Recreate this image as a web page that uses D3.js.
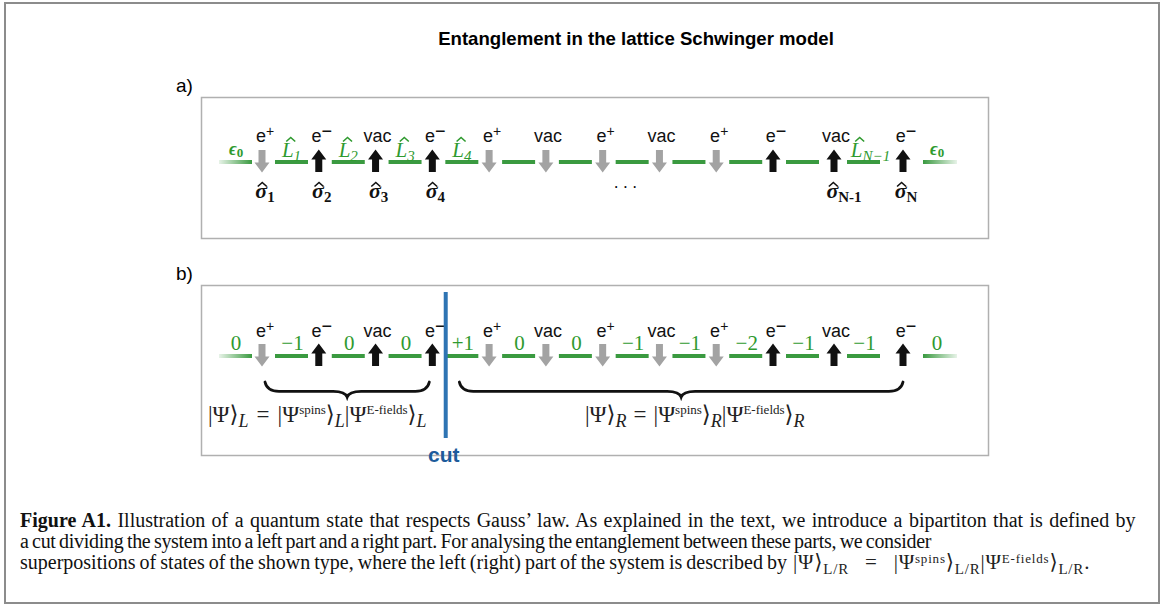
<!DOCTYPE html>
<html lang="en">
<head>
  <meta charset="UTF-8">
  <script src="https://cdn.jsdelivr.net/npm/d3@7"></script>
  <title>Entanglement in the lattice Schwinger model</title>
  <style>
    body { margin: 0; background: #fff; }
  </style>
</head>
<body>
  <svg width="1165" height="606"></svg>
<script>
  // --- data ---
  const siteLabels = ["e+", "e−", "vac", "e−", "e+", "vac", "e+", "vac", "e+", "e−", "vac", "e−"];
  const siteSpins = ["down", "up", "up", "up", "down", "down", "down", "down", "down", "up", "up", "up"];
  const bondSubsA = ["1", "2", "3", "4", null, null, null, null, null, null, "N−1"];
  const sigmaSubs = ["1", "2", "3", "4", null, null, null, null, null, null, "N-1", "N"];
  const bondValuesB = ["−1", "0", "0", "+1", "0", "0", "−1", "−1", "−2", "−1", "−1"];
  const edgeValuesB = ["0", "0"];
  const cutAfterSite = 3;
  const braces = [
    { from: 0, to: 3, side: "L" },
    { from: 3.5, to: 11, side: "R" }
  ];
  const captionLines = [
    ["Figure A1.", " Illustration of a quantum state that respects Gauss’ law. As explained in the text, we introduce a bipartiton that is defined by"],
    [null, "a cut dividing the system into a left part and a right part. For analysing the entanglement between these parts, we consider"],
    [null, "superpositions of states of the shown type, where the left (right) part of the system is described by"]
  ];
  const captionEnds = [1137, 930, 786];
  const captionTrack = [0, -0.3, 0];

  const svg = d3.select("svg");
  const width = +svg.attr("width");
  const height = +svg.attr("height");

  const green = "#3a9a40";
  const greenText = "#2f9a2f";
  const serif = "'Liberation Serif', 'DejaVu Serif', serif";
  const sans = "'Liberation Sans', Arial, sans-serif";

  // site index -> x (the lattice is drawn a bit wider at the right end)
  const xSite = d3.scaleLinear()
    .domain([0, 9, 10, 11])
    .range([262, 773, 834, 903]);

  const bondX0 = i => xSite(i) + 13;
  const bondX1 = i => xSite(i) + 46;
  const bondMid = i => (bondX0(i) + bondX1(i)) / 2;

  // outer frame
  svg.append("rect")
    .attr("x", 5).attr("y", 3)
    .attr("width", width - 11).attr("height", height - 6)
    .attr("fill", "#fff")
    .attr("stroke", "#8c8c8c")
    .attr("stroke-width", 2);

  // title
  svg.append("text")
    .attr("x", 636).attr("y", 45)
    .attr("text-anchor", "middle")
    .style("font-family", sans)
    .style("font-size", "18.6px")
    .style("font-weight", "bold")
    .text("Entanglement in the lattice Schwinger model");

  // gradients for the open ends of the chain
  const defs = svg.append("defs");
  const gl = defs.append("linearGradient").attr("id", "fadeL");
  gl.append("stop").attr("offset", "0%").attr("stop-color", green).attr("stop-opacity", 0.12);
  gl.append("stop").attr("offset", "100%").attr("stop-color", green).attr("stop-opacity", 1);
  const gr = defs.append("linearGradient").attr("id", "fadeR");
  gr.append("stop").attr("offset", "0%").attr("stop-color", green).attr("stop-opacity", 1);
  gr.append("stop").attr("offset", "100%").attr("stop-color", green).attr("stop-opacity", 0.12);

  function arrowPath(dir) {
    // block arrow, centred on 0,0
    const p = [[0, -11.5], [7.5, -1.5], [3.5, -1.5], [3.5, 11], [-3.5, 11], [-3.5, -1.5], [-7.5, -1.5]];
    const s = dir === "up" ? 1 : -1;
    return d3.line()(p.map(([x, y]) => [x, y * s])) + "Z";
  }

  // hat over the first glyph of a text element
  function addHat(g, textSel, capH, shift, color) {
    textSel.each(function () {
      const ex = this.getExtentOfChar(0);
      const yb = +d3.select(this).attr("y");
      const cx = ex.x + ex.width / 2 + shift;
      const top = yb - capH;
      g.append("path")
        .attr("d", `M${cx - 4.5},${top - 1.5} L${cx},${top - 5.5} L${cx + 4.5},${top - 1.5}`)
        .attr("fill", "none")
        .attr("stroke", color)
        .attr("stroke-width", 1.6);
    });
  }

  function drawChain(g, lineY, labelY) {
    const idx = d3.range(siteLabels.length);
    const bonds = d3.range(siteLabels.length - 1);

    g.selectAll(".bond").data(bonds).join("line")
      .attr("x1", d => bondX0(d)).attr("x2", d => bondX1(d))
      .attr("y1", lineY).attr("y2", lineY)
      .attr("stroke", green).attr("stroke-width", 4);

    // open ends
    g.append("rect")
      .attr("x", xSite(0) - 43).attr("y", lineY - 2)
      .attr("width", 33).attr("height", 4)
      .attr("fill", "url(#fadeL)");
    g.append("rect")
      .attr("x", xSite(11) + 20).attr("y", lineY - 2)
      .attr("width", 34).attr("height", 4)
      .attr("fill", "url(#fadeR)");

    // spins
    g.selectAll(".spin").data(idx).join("path")
      .attr("transform", d => `translate(${xSite(d)},${lineY - 1})`)
      .attr("d", d => arrowPath(siteSpins[d]))
      .attr("fill", d => siteSpins[d] === "up" ? "#111" : "#a3a3a3");

    // site labels
    const t = g.selectAll(".site").data(idx).join("text")
      .attr("x", d => xSite(d) + (siteLabels[d] === "vac" ? 2 : 3))
      .attr("y", labelY)
      .attr("text-anchor", "middle")
      .style("font-family", sans)
      .style("font-size", "18px")
      .attr("fill", "#111");
    t.each(function (d) {
      const lab = siteLabels[d];
      const el = d3.select(this);
      if (lab === "vac") {
        el.text("vac");
      } else {
        el.append("tspan").text("e");
        el.append("tspan")
          .attr("dy", lab === "e+" ? -6 : -5)
          .style("font-size", lab === "e+" ? "14px" : "18px")
          .text(lab === "e+" ? "+" : "−");
      }
    });
  }

  // ---------------- panel a ----------------
  svg.append("text")
    .attr("x", 176).attr("y", 92)
    .style("font-family", sans).style("font-size", "19px")
    .text("a)");
  svg.append("rect")
    .attr("x", 201.5).attr("y", 97.5).attr("width", 787).attr("height", 141)
    .attr("fill", "none").attr("stroke", "#b0b0b0").attr("stroke-width", 1.5);

  const ga = svg.append("g");
  drawChain(ga, 162, 142);

  // L operators
  const lOps = ga.selectAll(".lop")
    .data(d3.range(bondSubsA.length).filter(i => bondSubsA[i] !== null))
    .join("text")
    .attr("x", d => bondMid(d) + (bondSubsA[d].length > 1 ? 7 : 0))
    .attr("y", 157)
    .attr("text-anchor", "middle")
    .attr("fill", greenText)
    .style("font-family", serif)
    .style("font-style", "italic")
    .style("font-size", "21px");
  lOps.append("tspan").text("L");
  lOps.append("tspan")
    .attr("dy", 4)
    .style("font-size", "15px")
    .text(d => bondSubsA[d]);
  addHat(ga, lOps, 14, 3, greenText);

  // epsilon_0 at both open ends
  const epsX = [xSite(0) - 26, xSite(11) + 34];
  const eps = ga.selectAll(".eps").data(epsX).join("text")
    .attr("x", d => d).attr("y", 155)
    .attr("text-anchor", "middle")
    .attr("fill", greenText)
    .style("font-family", serif)
    .style("font-style", "italic")
    .style("font-weight", "bold")
    .style("font-size", "18px");
  eps.append("tspan").text("ϵ");
  eps.append("tspan").attr("dy", 2).style("font-size", "13px").style("font-style", "normal").text("0");

  // sigma operators
  const sig = ga.selectAll(".sig")
    .data(d3.range(sigmaSubs.length).filter(i => sigmaSubs[i] !== null))
    .join("text")
    .attr("x", d => xSite(d) + (sigmaSubs[d].length > 1 ? (sigmaSubs[d].length > 2 ? 10 : 4) : 3))
    .attr("y", 198)
    .attr("text-anchor", "middle")
    .attr("fill", "#111")
    .style("font-family", serif)
    .style("font-weight", "bold")
    .style("font-size", "22px");
  sig.append("tspan").style("font-style", "italic").text("σ");
  sig.append("tspan").attr("dy", 4).style("font-size", "15px").text(d => sigmaSubs[d]);
  addHat(ga, sig, 10, 1, "#111");

  ga.append("text")
    .attr("x", xSite(6.4)).attr("y", 193)
    .attr("text-anchor", "middle")
    .style("font-family", serif).style("font-size", "16px")
    .text("· · ·");

  // ---------------- panel b ----------------
  svg.append("text")
    .attr("x", 176).attr("y", 280)
    .style("font-family", sans).style("font-size", "19px")
    .text("b)");
  svg.append("rect")
    .attr("x", 201.5).attr("y", 285.5).attr("width", 787).attr("height", 170)
    .attr("fill", "none").attr("stroke", "#b0b0b0").attr("stroke-width", 1.5);

  const gb = svg.append("g");
  drawChain(gb, 356, 337);

  gb.selectAll(".val").data(bondValuesB).join("text")
    .attr("x", (d, i) => bondMid(i) + 1)
    .attr("y", 350)
    .attr("text-anchor", "middle")
    .attr("fill", greenText)
    .style("font-family", serif)
    .style("font-size", "21px")
    .text(d => d);

  gb.selectAll(".edgeval").data(edgeValuesB).join("text")
    .attr("x", (d, i) => i === 0 ? xSite(0) - 26 : xSite(11) + 34)
    .attr("y", 350)
    .attr("text-anchor", "middle")
    .attr("fill", greenText)
    .style("font-family", serif)
    .style("font-size", "21px")
    .text(d => d);

  // braces
  function bracePath(x1, x2, y, d) {
    const m = (x1 + x2) / 2, q = 14, h = y + d * 0.62;
    return `M${x1},${y} Q${x1 + 2},${h} ${x1 + q},${h} L${m - q},${h} Q${m - 2},${h} ${m},${y + d}` +
      ` Q${m + 2},${h} ${m + q},${h} L${x2 - q},${h} Q${x2 - 2},${h} ${x2},${y}`;
  }
  gb.selectAll(".brace").data(braces).join("path")
    .attr("d", d => {
      const x1 = d.side === "L" ? xSite(d.from) + 3 : xSite(cutAfterSite) + 27;
      const x2 = d.side === "L" ? xSite(d.to) - 3 : xSite(d.to);
      return bracePath(x1, x2, 382, 15);
    })
    .attr("fill", "none")
    .attr("stroke", "#111")
    .attr("stroke-width", 2.8)
    .attr("stroke-linecap", "round");

  // state formulas
  function stateFormula(sel, side, big, sub, sup, gap, raise) {
    const st = side.length > 1 ? "normal" : "italic";
    const r = raise || 8;
    const t = sel.append("text")
      .style("font-family", serif)
      .style("font-size", big + "px")
      .attr("fill", "#222");
    t.append("tspan").text("|Ψ⟩");
    t.append("tspan").attr("dy", 5).style("font-style", st).style("font-size", sub + "px").text(side);
    t.append("tspan").attr("dy", -5).attr("dx", gap).text("=");
    t.append("tspan").attr("dx", gap).text("|Ψ");
    t.append("tspan").attr("dy", -r).style("font-size", sup + "px").text("spins");
    t.append("tspan").attr("dy", r).text("⟩");
    t.append("tspan").attr("dy", 5).style("font-style", st).style("font-size", sub + "px").text(side);
    t.append("tspan").attr("dy", -5).text("|Ψ");
    t.append("tspan").attr("dy", -r).style("font-size", sup + "px").text("E-fields");
    t.append("tspan").attr("dy", r).text("⟩");
    t.append("tspan").attr("dy", 5).style("font-style", st).style("font-size", sub + "px").text(side);
    return t;
  }
  stateFormula(gb, "L", 23, 18, 13, 8).attr("x", 208).attr("y", 422);
  stateFormula(gb, "R", 23, 18, 13, 7).attr("x", 585).attr("y", 422);

  // cut
  const xCut = (xSite(cutAfterSite) + xSite(cutAfterSite + 1)) / 2 - 15;
  gb.append("line")
    .attr("x1", xCut).attr("x2", xCut)
    .attr("y1", 292).attr("y2", 438)
    .attr("stroke", "#2e74b3").attr("stroke-width", 4);
  gb.append("text")
    .attr("x", xCut - 2).attr("y", 462)
    .attr("text-anchor", "middle")
    .attr("fill", "#1d5b9b")
    .style("font-family", sans)
    .style("font-size", "21px")
    .style("font-weight", "bold")
    .text("cut");

  // ---------------- caption ----------------
  const cap = svg.append("g")
    .style("font-family", serif)
    .style("font-size", "20px")
    .attr("fill", "#111");
  captionLines.forEach((ln, i) => {
    const t = cap.append("text").attr("x", 20).attr("y", 527 + i * 21)
      .style("letter-spacing", captionTrack[i] + "px");
    if (ln[0]) t.append("tspan").style("font-weight", "bold").text(ln[0]);
    t.append("tspan").text(ln[1]);
    // justify with word spacing
    const natural = t.node().getComputedTextLength();
    const spaces = (ln.join(" ").match(/ /g) || []).length;
    t.style("word-spacing", ((captionEnds[i] - 20 - natural) / spaces) + "px");
  });
  // closing formula on the last line
  const fc = stateFormula(cap, "L/R", 21, 15, 13, 16, 6).attr("x", 793).attr("y", 569);
  fc.append("tspan").attr("dy", -5).text(".");
  const fcLen = fc.node().getComputedTextLength();
  fc.style("letter-spacing", Math.min(0.8, Math.max(0, (1143 - 793 - fcLen) / 40)) + "px");
</script>
</body>
</html>
